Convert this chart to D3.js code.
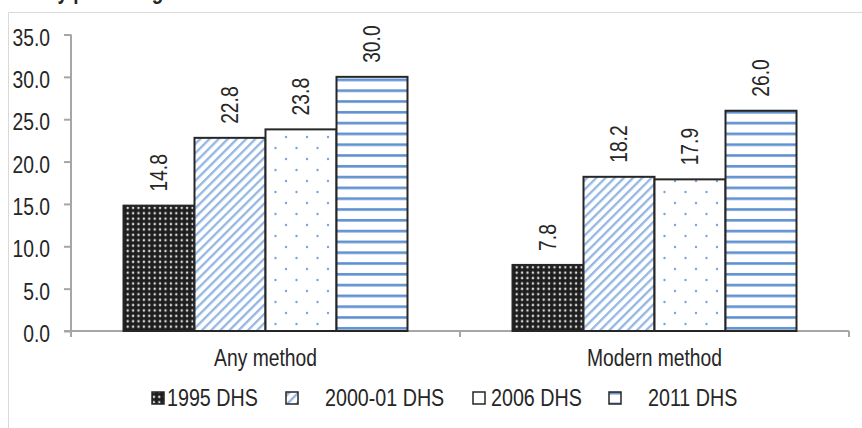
<!DOCTYPE html>
<html><head><meta charset="utf-8">
<script src="https://cdn.jsdelivr.net/npm/d3@7"></script>
<style>
html,body{margin:0;padding:0;background:#fff;}
svg{display:block;}
text{font-family:'Liberation Sans',Arial,sans-serif;fill:#262626;}
</style></head>
<body><div id="chart"></div>
<script>
const categories = ["Any method", "Modern method"];
const seriesNames = ["1995 DHS", "2000-01 DHS", "2006 DHS", "2011 DHS"];
const values1995 = [14.8, 7.8];
const values2000 = [22.8, 18.2];
const values2006 = [23.8, 17.9];
const values2011 = [30.0, 26.0];
const yTickValues = [0, 5, 10, 15, 20, 25, 30, 35];
const titleText = "by percentage";

const seriesValues = [values1995, values2000, values2006, values2011];
const W = 862, H = 428;
const svg = d3.select("#chart").append("svg").attr("width", W).attr("height", H);
const defs = svg.append("defs");

// condense text like a narrow face
function narrow(sel, k) {
  sel.each(function() {
    const len = this.getComputedTextLength();
    d3.select(this).attr("textLength", len * (k || 0.82)).attr("lengthAdjust", "spacingAndGlyphs");
  });
}

// patterns
const p0 = defs.append("pattern").attr("id", "pat0").attr("patternUnits", "userSpaceOnUse")
  .attr("width", 5.4).attr("height", 5.4);
p0.append("rect").attr("width", 5.4).attr("height", 5.4).attr("fill", "#1e1e1e");
p0.append("circle").attr("cx", 2.7).attr("cy", 2.7).attr("r", 1.25).attr("fill", "#d8d8d8");

const p1 = defs.append("pattern").attr("id", "pat1").attr("patternUnits", "userSpaceOnUse")
  .attr("width", 6.5).attr("height", 6.5).attr("patternTransform", "rotate(45)");
p1.append("rect").attr("width", 6.5).attr("height", 6.5).attr("fill", "#fff");
p1.append("rect").attr("x", 0).attr("width", 2.3).attr("height", 6.5).attr("fill", "#93b6e2");

const p2 = defs.append("pattern").attr("id", "pat2").attr("patternUnits", "userSpaceOnUse")
  .attr("width", 21).attr("height", 22);
p2.append("rect").attr("width", 21).attr("height", 22).attr("fill", "#fff");
p2.append("circle").attr("cx", 5).attr("cy", 5).attr("r", 1.2).attr("fill", "#7aa5dc");
p2.append("circle").attr("cx", 15.5).attr("cy", 16).attr("r", 1.2).attr("fill", "#7aa5dc");

const p3 = defs.append("pattern").attr("id", "pat3").attr("patternUnits", "userSpaceOnUse")
  .attr("width", 10).attr("height", 10.8);
p3.append("rect").attr("width", 10).attr("height", 10.8).attr("fill", "#fff");
p3.append("rect").attr("y", 3).attr("width", 10).attr("height", 2.6).attr("fill", "#5e90d0");
const fills = ["url(#pat0)", "url(#pat1)", "url(#pat2)", "url(#pat3)"];

// frame
svg.append("path").attr("d", `M8.5,${H}V12.5H${W}`).attr("fill", "none")
  .attr("stroke", "#d9d9d9").attr("stroke-width", 1);

// clipped title
const title = svg.append("text").attr("x", 46).attr("y", -1.5).attr("font-size", 23)
  .attr("font-weight", "bold").attr("fill", "#1a1a1a").text(titleText);
narrow(title);

const y = d3.scaleLinear().domain([0, 35]).range([331, 34.5]);
const x0 = d3.scaleBand().domain(categories).range([71, 849]).padding(0);
const x1 = d3.scaleBand().domain(seriesNames).range([52.5, x0.bandwidth() - 52.5]).padding(0);

const axisColor = "#a6a6a6";
// y axis
const yAxis = svg.append("g").attr("transform", "translate(71,0)")
  .call(d3.axisLeft(y).tickValues(yTickValues).tickSize(7).tickPadding(14).tickFormat(d3.format(".1f")));
yAxis.select(".domain").remove();
yAxis.selectAll("line").attr("stroke", axisColor).attr("stroke-width", 2);
yAxis.selectAll("text").attr("font-size", 23.5).attr("dy", "0.45em").attr("fill", "#262626")
  .attr("font-family", null).call(narrow);
svg.append("line").attr("x1", 71).attr("x2", 71).attr("y1", y(35)).attr("y2", y(0) + 6)
  .attr("stroke", axisColor).attr("stroke-width", 2);

// x axis
svg.append("line").attr("x1", 64).attr("x2", 849).attr("y1", y(0)).attr("y2", y(0))
  .attr("stroke", axisColor).attr("stroke-width", 2);
const bounds = [x0.range()[0]].concat(categories.map(c => x0(c) + x0.bandwidth()));
svg.selectAll(".xt").data(bounds).join("line").attr("class", "xt")
  .attr("x1", d => d).attr("x2", d => d).attr("y1", y(0)).attr("y2", y(0) + 6)
  .attr("stroke", axisColor).attr("stroke-width", 2);
const xAxis = svg.append("g").attr("transform", `translate(0,${y(0)})`)
  .call(d3.axisBottom(x0).tickSize(0).tickPadding(18));
xAxis.select(".domain").remove();
xAxis.selectAll("text").attr("font-size", 23.5).attr("fill", "#262626").attr("font-family", null)
  .call(narrow);

// bars
const groups = svg.selectAll(".grp").data(categories).join("g").attr("class", "grp")
  .attr("transform", c => `translate(${x0(c)},0)`);
groups.each(function(c, ci) {
  const g = d3.select(this);
  seriesNames.forEach((s, si) => {
    const v = seriesValues[si][ci];
    g.append("rect").attr("x", x1(s)).attr("y", y(v)).attr("width", x1.bandwidth())
      .attr("height", y(0) - y(v)).attr("fill", fills[si])
      .attr("stroke", "#262626").attr("stroke-width", 2);
  });
  seriesNames.forEach((s, si) => {
    const v = seriesValues[si][ci];
    const cx = x1(s) + x1.bandwidth() / 2 + 8.3;
    const ty = y(v) - 14;
    g.append("text").attr("transform", `translate(${cx},${ty}) rotate(-90)`)
      .attr("font-size", 23.5).text(d3.format(".1f")(v)).call(narrow);
  });
});

// legend
const legendIconX = [152, 286, 473, 609];
const legendTextX = [167, 325, 491, 648];
const leg = svg.append("g");
seriesNames.forEach((s, i) => {
  leg.append("rect").attr("x", legendIconX[i]).attr("y", 392).attr("width", 12).attr("height", 12)
    .attr("fill", fills[i]).attr("stroke", "#262626").attr("stroke-width", 1.5);
  leg.append("text").attr("x", legendTextX[i]).attr("y", 406).attr("font-size", 24).text(s).call(narrow);
});
</script></body></html>
